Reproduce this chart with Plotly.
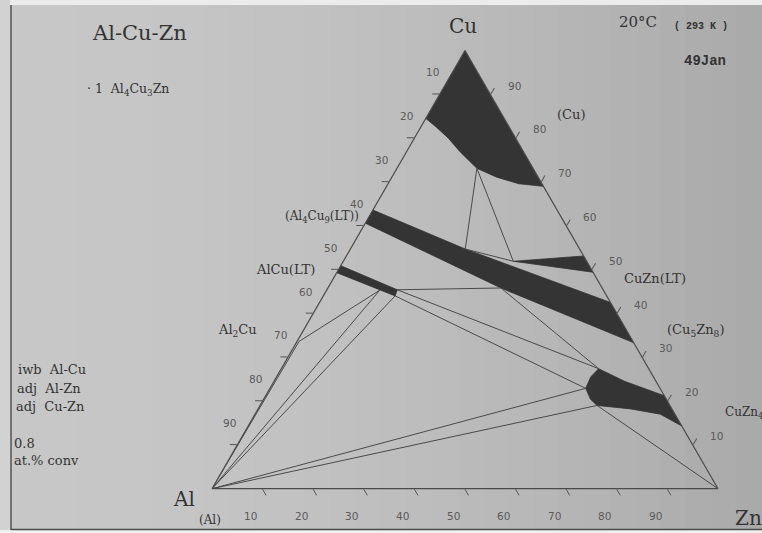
import plotly.graph_objects as go

# ---------------- data (at.% Cu, Al, Zn) ----------------
# (Cu) solid solution
cuss_cu = [100, 84.5, 82.5, 80.0, 76.8, 73.1, 71.1, 69.6, 69.0]
cuss_al = [0, 15.5, 14.4, 13.3, 12.5, 11.1, 8.2, 4.6, 0]
cuss_zn = [0, 0, 3.1, 6.7, 10.7, 15.8, 20.7, 25.8, 31.0]

# gamma band Al4Cu9(LT) - Cu5Zn8
gam_cu = [63.6, 54.7, 42.5, 33.3, 45.8, 60.6]
gam_al = [36.4, 22.6, 0, 0, 20.0, 39.4]
gam_zn = [0, 22.7, 57.5, 66.7, 34.2, 0]

# CuZn(LT)
cuzn_cu = [51.9, 53.1, 49.4]
cuzn_al = [14.5, 0, 0]
cuzn_zn = [33.6, 46.9, 50.6]

# AlCu(LT)
alcu_cu = [50.9, 45.4, 44.0, 49.3]
alcu_al = [49.1, 40.7, 41.8, 50.7]
alcu_zn = [0, 13.9, 14.2, 0]

# CuZn4 (epsilon)
eps_cu = [27.4, 24.5, 21.2, 14.3, 17.0, 18.2, 19.0, 20.4, 22.9, 25.5]
eps_al = [9.9, 6.2, 0, 0, 2.9, 8.1, 14.4, 15.0, 14.7, 12.4]
eps_zn = [62.7, 69.3, 78.8, 85.7, 80.1, 73.7, 66.6, 64.6, 62.4, 62.1]

# tie-line endpoints (Cu, Al, Zn)
tie_start = [
    (73.1, 11.1, 15.8), (73.1, 11.1, 15.8), (54.7, 22.6, 22.7),
    (45.4, 40.7, 13.9), (45.8, 20.0, 34.2), (45.4, 40.7, 13.9),
    (44.0, 41.8, 14.2), (44.0, 41.8, 14.2), (45.3, 44.2, 10.5),
    (45.3, 44.2, 10.5), (33.6, 66.0, 0.4), (0, 100, 0),
    (0, 100, 0), (19.0, 14.4, 66.6),
]
tie_end = [
    (54.7, 22.6, 22.7), (51.9, 14.5, 33.6), (51.9, 14.5, 33.6),
    (45.8, 20.0, 34.2), (27.4, 9.9, 62.7), (27.4, 9.9, 62.7),
    (22.9, 14.7, 62.4), (0, 100, 0), (0, 100, 0),
    (33.6, 66.0, 0.4), (0, 100, 0), (22.9, 14.7, 62.4),
    (19.0, 14.4, 66.6), (0, 0, 100),
]

tick_vals = [10, 20, 30, 40, 50, 60, 70, 80, 90]

W, H = 762, 533
DARK = "#343434"
LINE = "#4a4a4a"
SERIF = "DejaVu Serif"

# ternary frame (pixels)
TX0, TX1 = 212, 718
TW = TX1 - TX0
TH = TW * 3 ** 0.5 / 2
DOM_Y0 = 44                       # measured from the bottom
DOM_Y1 = DOM_Y0 + TH + 0.6
TBASE = H - ((DOM_Y0 + DOM_Y1) / 2 - TH / 2)

fig = go.Figure()


def region(cu, al, zn):
    fig.add_trace(go.Scatterternary(
        a=cu + cu[:1], b=al + al[:1], c=zn + zn[:1], mode="lines",
        fill="toself", fillcolor=DARK, line=dict(color=DARK, width=0.8),
        hoverinfo="skip", showlegend=False))


region(cuss_cu, cuss_al, cuss_zn)
region(gam_cu, gam_al, gam_zn)
region(cuzn_cu, cuzn_al, cuzn_zn)
region(alcu_cu, alcu_al, alcu_zn)
region(eps_cu, eps_al, eps_zn)

ta, tb, tc = [], [], []
for s, e in zip(tie_start, tie_end):
    ta += [s[0], e[0], None]
    tb += [s[1], e[1], None]
    tc += [s[2], e[2], None]
fig.add_trace(go.Scatterternary(a=ta, b=tb, c=tc, mode="lines",
                                line=dict(color=LINE, width=1),
                                connectgaps=False, hoverinfo="skip",
                                showlegend=False))

axis = dict(title=dict(text=""), tickmode="array", tickvals=tick_vals,
            showticklabels=False,
            ticks="outside", ticklen=7, tickwidth=1, tickcolor="#555",
            linecolor=LINE, linewidth=1.2, showgrid=False, min=0)

# background paper (photo) shading
shapes = []
n = 30
for i in range(n):
    x0, x1 = i / n, (i + 1) / n
    xm = (x0 + x1) / 2
    g = int(round(199 - 30 * xm ** 1.8))
    shapes.append(dict(type="rect", xref="paper", yref="paper", x0=x0, x1=x1 + 0.002,
                       y0=0, y1=1, line=dict(width=0),
                       fillcolor=f"rgb({g},{g},{g})", layer="below"))
shapes += [
    dict(type="rect", xref="paper", yref="paper", x0=0, x1=1, y0=1 - 5 / H, y1=1,
         line=dict(width=0), fillcolor="#ececec", layer="below"),
    dict(type="rect", xref="paper", yref="paper", x0=0, x1=10 / W, y0=0, y1=1,
         line=dict(width=0), fillcolor="#d2d2d2", layer="below"),
    dict(type="line", xref="paper", yref="paper", x0=11 / W, x1=11 / W, y0=3 / H, y1=1 - 5 / H,
         line=dict(width=1.5, color="#555"), layer="below"),
    dict(type="rect", xref="paper", yref="paper", x0=0, x1=1, y0=0, y1=3 / H,
         line=dict(width=0), fillcolor="#f0f0f0", layer="below"),
    dict(type="line", xref="paper", yref="paper", x0=11 / W, x1=1, y0=3.5 / H, y1=3.5 / H,
         line=dict(width=1.5, color="#4a4a4a"), layer="below"),
]


def ann(text, x, y, size=13, family=SERIF, anchor="center", color="#333", bold=False):
    if bold:
        text = "<b>" + text + "</b>"
    return dict(text=text, x=x / W, y=1 - y / H, xref="paper", yref="paper",
                xanchor=anchor, yanchor="middle", showarrow=False,
                font=dict(family=family, size=size, color=color))


def tern_px(cu, al, zn):
    """composition -> pixel position in the ternary frame (for tick labels)."""
    x = TX0 + (zn + cu / 2) / 100 * TW
    y = TBASE - cu / 100 * TH
    return x, y


NB = "\u00a0"
annotations = [
    ann("Al-Cu-Zn", 139, 33, size=21),
    ann("·" + NB + "1" + NB * 2 + "Al<sub>4</sub>Cu<sub>3</sub>Zn", 85, 89, size=12.5, anchor="left"),
    ann("Cu", 463, 26, size=20),
    ann("20°C", 638, 22, size=15),
    ann("(" + NB + "293" + NB + "K" + NB + ")", 701, 26, size=10, family="Liberation Mono", bold=True),
    ann("49Jan", 705, 61, size=14, family="Liberation Mono", bold=True),
    ann("(Cu)", 571, 115, size=13),
    ann("(Al<sub>4</sub>Cu<sub>9</sub>(LT))", 322, 217, size=12),
    ann("AlCu(LT)", 285, 269, size=13),
    ann("Al<sub>2</sub>Cu", 237, 330, size=13),
    ann("CuZn(LT)", 655, 278, size=13),
    ann("(Cu<sub>5</sub>Zn<sub>8</sub>)", 695, 330, size=13),
    ann("CuZn<sub>4</sub>", 723, 413, size=12, anchor="left"),
    ann("iwb" + NB * 2 + "Al-Cu", 16, 369, size=13, anchor="left"),
    ann("adj" + NB * 2 + "Al-Zn", 15, 388, size=13, anchor="left"),
    ann("adj" + NB * 2 + "Cu-Zn", 14, 406, size=13, anchor="left"),
    ann("0.8", 12, 443, size=13, anchor="left"),
    ann("at.%" + NB + "conv", 12, 460, size=13, anchor="left"),
    ann("Al", 184, 499, size=20),
    ann("(Al)", 210, 520, size=12),
    ann("Zn", 733, 518, size=20, anchor="left"),
]

# tick labels: left edge = at.% Al, right edge = at.% Cu, bottom = at.% Zn
TICKFONT = "DejaVu Sans"
TICKCOL = "#5a5a5a"
for k in tick_vals:
    x, y = tern_px(105 - k, k - 1, -4)
    annotations.append(ann(str(k), x, y, size=10.5, family=TICKFONT, color=TICKCOL))
    x, y = tern_px(k + 2, -5.7, 103.7 - k)
    annotations.append(ann(str(k), x, y, size=10.5, family=TICKFONT, color=TICKCOL))
    x, y = tern_px(-6.3, 105.5 - k, k + 0.8)
    annotations.append(ann(str(k), x, y, size=10.5, family=TICKFONT, color=TICKCOL))

fig.update_layout(
    width=W, height=H, margin=dict(l=0, r=0, t=0, b=0),
    paper_bgcolor="#c4c4c4", plot_bgcolor="rgba(0,0,0,0)",
    showlegend=False,
    ternary=dict(
        sum=100,
        domain=dict(x=[TX0 / W, TX1 / W], y=[DOM_Y0 / H, DOM_Y1 / H]),
        bgcolor="rgba(0,0,0,0)",
        aaxis=axis, baxis=axis, caxis=axis,
    ),
    shapes=shapes,
    annotations=annotations,
)

fig.write_html("out.html")
